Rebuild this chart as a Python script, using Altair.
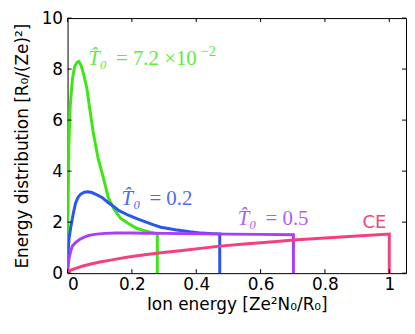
import altair as alt
import pandas as pd

# ---- data ----
green_x = [0, 0.002, 0.004, 0.008, 0.015, 0.022, 0.03, 0.035, 0.042, 0.05, 0.06, 0.07, 0.08, 0.095, 0.111,
           0.127, 0.145, 0.165, 0.189, 0.215, 0.24, 0.26, 0.279, 0.279]
green_y = [0, 3.0, 5.0, 6.5, 7.6, 8.1, 8.27, 8.3, 8.15, 7.8, 7.25, 6.36, 5.5, 4.5, 3.75,
           2.95, 2.5, 2.15, 1.95, 1.76, 1.66, 1.6, 1.55, 0]

blue_x = [0, 0.002, 0.005, 0.01, 0.018, 0.025, 0.033, 0.041, 0.052, 0.063, 0.075, 0.09, 0.107, 0.125,
          0.138, 0.16, 0.189, 0.215, 0.24, 0.27, 0.29, 0.335, 0.38, 0.417, 0.45, 0.473, 0.473]
blue_y = [0, 0.9, 1.4, 1.8, 2.35, 2.75, 2.98, 3.1, 3.17, 3.19, 3.16, 3.08, 2.97, 2.78,
          2.66, 2.45, 2.27, 2.14, 2.02, 1.88, 1.8, 1.7, 1.62, 1.57, 1.55, 1.54, 0]

purple_x = [0, 0.002, 0.005, 0.01, 0.015, 0.025, 0.036, 0.05, 0.066, 0.09, 0.117, 0.15, 0.2, 0.25,
            0.3, 0.4, 0.5, 0.6, 0.702, 0.702]
purple_y = [0, 0.35, 0.61, 0.88, 1.06, 1.2, 1.31, 1.4, 1.48, 1.53, 1.56, 1.57, 1.57, 1.565,
            1.56, 1.545, 1.53, 1.52, 1.51, 0]

ce_x = [0, 0.005, 0.01, 0.025, 0.045, 0.066, 0.1, 0.138, 0.189, 0.24, 0.29, 0.35, 0.473, 0.55,
        0.65, 0.702, 0.8, 0.9, 1.0, 1.0]
ce_y = [0, 0.08, 0.12, 0.19, 0.27, 0.34, 0.44, 0.52, 0.63, 0.72, 0.8, 0.88, 1.06, 1.14,
        1.24, 1.3, 1.38, 1.46, 1.53, 0]

series_names = ["T0=0.072", "T0=0.2", "T0=0.5", "CE"]
series_colors = ["#3fe616", "#2a55ee", "#a83ef5", "#f5407a"]
text_colors = ["#5cec3c", "#4a6cf0", "#b45cf2", "#f3477c"]

label_prefix = ["T\u0302\u2080", "T\u0302\u2080", "T\u0302\u2080"]
label_suffix = ["= 7.2 \u00d710", "= 0.2", "= 0.5"]
label_sup = ["\u22122", "", ""]
label_x = [0.064, 0.168, 0.529]
label_y = [8.15, 2.66, 1.89]
label_colors = text_colors[:3]

ce_label = ["CE"]
ce_label_x = [0.917]
ce_label_y = [1.76]

x_ticks = [0, 0.2, 0.4, 0.6, 0.8, 1.0]
y_ticks = [0, 2, 4, 6, 8, 10]

rows = []
for name, xs, ys in zip(series_names, [green_x, blue_x, purple_x, ce_x], [green_y, blue_y, purple_y, ce_y]):
    for i, (xv, yv) in enumerate(zip(xs, ys)):
        rows.append({"series": name, "x": xv, "y": yv, "i": i})
df = pd.DataFrame(rows)

TL = 4  # inward tick length
xscale = alt.Scale(domain=[0, 1.052], nice=False, zero=False)
yscale = alt.Scale(domain=[0, 10], nice=False)

lines = alt.Chart(df).mark_line(strokeWidth=3, clip=True).encode(
    x=alt.X("x:Q", scale=xscale,
            axis=alt.Axis(values=x_ticks, format="~g", title="Ion energy [Ze\u00b2N\u2080/R\u2080]",
                          ticks=False, domain=False, grid=False, labelPadding=3, titlePadding=5)),
    y=alt.Y("y:Q", scale=yscale,
            axis=alt.Axis(values=y_ticks, format="d", title="Energy distribution [R\u2080/(Ze)\u00b2]",
                          ticks=False, domain=False, grid=False, labelPadding=5, titlePadding=10)),
    color=alt.Color("series:N", scale=alt.Scale(domain=series_names, range=series_colors), legend=None),
    order="i:Q",
)

lab = pd.DataFrame({"pre": label_prefix, "suf": label_suffix, "sup": label_sup,
                    "x": label_x, "y": label_y, "tc": label_colors})
ce_df = pd.DataFrame({"t": ce_label, "x": ce_label_x, "y": ce_label_y})

def txt(field, dx=0, dy=0, size=21, style="normal", data=lab):
    return alt.Chart(data).mark_text(font="Liberation Serif", fontStyle=style, fontSize=size,
                                     align="left", baseline="alphabetic", dx=dx, dy=dy).encode(
        x=alt.X("x:Q", scale=xscale), y=alt.Y("y:Q", scale=yscale), text=f"{field}:N",
        color=alt.Color("tc:N", scale=None))

pre_text = txt("pre", style="italic")
suf_text = txt("suf", dx=28)
sup_text = txt("sup", dx=113, dy=-9, size=15)

ce_text = alt.Chart(ce_df).mark_text(font="DejaVu Sans", fontSize=18, color=text_colors[3],
                                     align="left", baseline="alphabetic").encode(
    x=alt.X("x:Q", scale=xscale), y=alt.Y("y:Q", scale=yscale), text="t:N")

xt = pd.DataFrame({"v": x_ticks})
yt = pd.DataFrame({"v": y_ticks})
xtick_b = alt.Chart(xt).mark_rule(strokeWidth=1, color="black", y2Offset=-TL).encode(
    x=alt.X("v:Q", scale=xscale), y=alt.value("height"), y2=alt.value("height"))
xtick_t = alt.Chart(xt).mark_rule(strokeWidth=1, color="black").encode(
    x=alt.X("v:Q", scale=xscale), y=alt.value(0), y2=alt.value(TL))
ytick_l = alt.Chart(yt).mark_rule(strokeWidth=1, color="black").encode(
    y=alt.Y("v:Q", scale=yscale), x=alt.value(0), x2=alt.value(TL))
ytick_r = alt.Chart(yt).mark_rule(strokeWidth=1, color="black", x2Offset=-TL).encode(
    y=alt.Y("v:Q", scale=yscale), x=alt.value("width"), x2=alt.value("width"))

chart = alt.layer(lines, xtick_b, xtick_t, ytick_l, ytick_r, pre_text, suf_text, sup_text, ce_text).properties(
    width=402, height=306, padding={"left": 5, "top": 0, "right": 0, "bottom": 0},
    autosize=alt.AutoSizeParams(type="fit", contains="padding")
).configure_view(stroke="black", strokeWidth=1).configure_axis(
    labelFont="DejaVu Sans", titleFont="DejaVu Sans", labelFontSize=17, titleFontSize=17,
    labelColor="black", titleColor="black", titleFontWeight="normal"
).resolve_scale(color="independent")

chart.save("out.html", embed_options={"renderer": "svg", "actions": False})
